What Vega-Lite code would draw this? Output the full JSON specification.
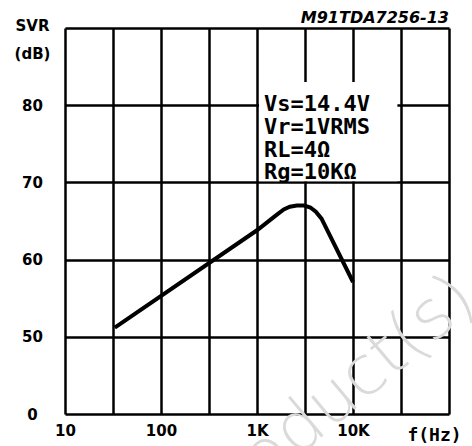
{
  "$schema": "https://vega.github.io/schema/vega-lite/v6.json",
  "width": 384,
  "height": 386,
  "autosize": "none",
  "padding": {"left": 65, "top": 28, "right": 23, "bottom": 32},
  "background": "white",
  "config": {"view": {"stroke": null}},
  "title": {
    "text": "M91TDA7256-13",
    "anchor": "end",
    "frame": "group",
    "font": "DejaVu Sans",
    "fontStyle": "italic",
    "fontWeight": "bold",
    "fontSize": 16,
    "color": "black",
    "offset": -8
  },
  "datasets": {
    "curve": [
      {"f": 33, "v": 51.2},
      {"f": 1000, "v": 63.8},
      {"f": 1600, "v": 65.8},
      {"f": 1900, "v": 66.5},
      {"f": 2200, "v": 66.85},
      {"f": 2600, "v": 67.0},
      {"f": 3100, "v": 67.0},
      {"f": 3600, "v": 66.75},
      {"f": 4100, "v": 66.2},
      {"f": 4700, "v": 65.3},
      {"f": 10000, "v": 57.1}
    ],
    "box": [{"f": 1050, "f2": 29000, "v": 70.15, "v2": 83.0}],
    "notes": [
      {"f": 1183, "v": 79.3, "t": "Vs=14.4V"},
      {"f": 1183, "v": 76.3, "t": "Vr=1VRMS"},
      {"f": 1183, "v": 73.35, "t": "RL=4Ω"},
      {"f": 1183, "v": 70.4, "t": "Rg=10KΩ"}
    ],
    "mark": [{"f": 6300, "v": 41.7, "t": "Product(s)"}]
  },
  "encoding": {
    "x": {
      "field": "f", "type": "quantitative",
      "scale": {"type": "log", "domain": [10, 100000], "nice": false},
      "axis": {
        "values": [10, 31.62, 100, 316.2, 1000, 3162, 10000, 31623, 100000],
        "labelExpr": "datum.value == 10 ? '10' : datum.value == 100 ? '100' : datum.value == 1000 ? '1K' : datum.value == 10000 ? '10K' : ''",
        "grid": true, "gridColor": "black", "gridWidth": 2.5, "gridOpacity": 1,
        "ticks": false, "domain": false,
        "labelFont": "DejaVu Sans", "labelFontWeight": "bold", "labelFontSize": 15, "labelColor": "black",
        "labelPadding": 9, "labelFlush": false, "labelOverlap": false,
        "title": "f(Hz)", "titleX": 369, "titleY": 26, "titleAlign": "center", "titleBaseline": "alphabetic",
        "titleFont": "DejaVu Sans Mono", "titleFontWeight": "bold", "titleFontSize": 18, "titleColor": "black"
      }
    },
    "y": {
      "field": "v", "type": "quantitative",
      "scale": {"domain": [40, 90], "nice": false, "zero": false},
      "axis": {
        "values": [40, 50, 60, 70, 80, 90],
        "labelExpr": "datum.value == 40 ? '0' : datum.value == 90 ? '' : datum.label",
        "grid": true, "gridColor": "black", "gridWidth": 2.5, "gridOpacity": 1,
        "ticks": false, "domain": false,
        "labelFont": "DejaVu Sans", "labelFontWeight": "bold", "labelFontSize": 15, "labelColor": "black",
        "labelAlign": "center", "labelBaseline": "middle", "labelPadding": 33, "labelOverlap": false,
        "title": ["SVR", "(dB)"], "titleAngle": 0, "titleX": -33, "titleY": 2, "titleAlign": "center",
        "titleBaseline": "alphabetic", "titleLineHeight": 28,
        "titleFont": "DejaVu Sans", "titleFontWeight": "bold", "titleFontSize": 15, "titleColor": "black"
      }
    }
  },
  "layer": [
    {
      "data": {"name": "mark"},
      "mark": {"type": "text", "font": "DejaVu Sans", "fontWeight": 200, "fontSize": 68, "angle": -40, "align": "center", "baseline": "middle", "color": "#dadada"},
      "encoding": {"text": {"field": "t"}}
    },
    {
      "data": {"name": "box"},
      "mark": {"type": "rect", "color": "white"},
      "encoding": {"x2": {"field": "f2"}, "y2": {"field": "v2"}}
    },
    {
      "data": {"name": "curve"},
      "mark": {"type": "line", "color": "black", "strokeWidth": 4},
      "encoding": {}
    },
    {
      "data": {"name": "notes"},
      "mark": {"type": "text", "font": "DejaVu Sans Mono", "fontWeight": "bold", "fontSize": 22, "align": "left", "baseline": "alphabetic", "color": "black"},
      "encoding": {"text": {"field": "t"}}
    }
  ]
}
